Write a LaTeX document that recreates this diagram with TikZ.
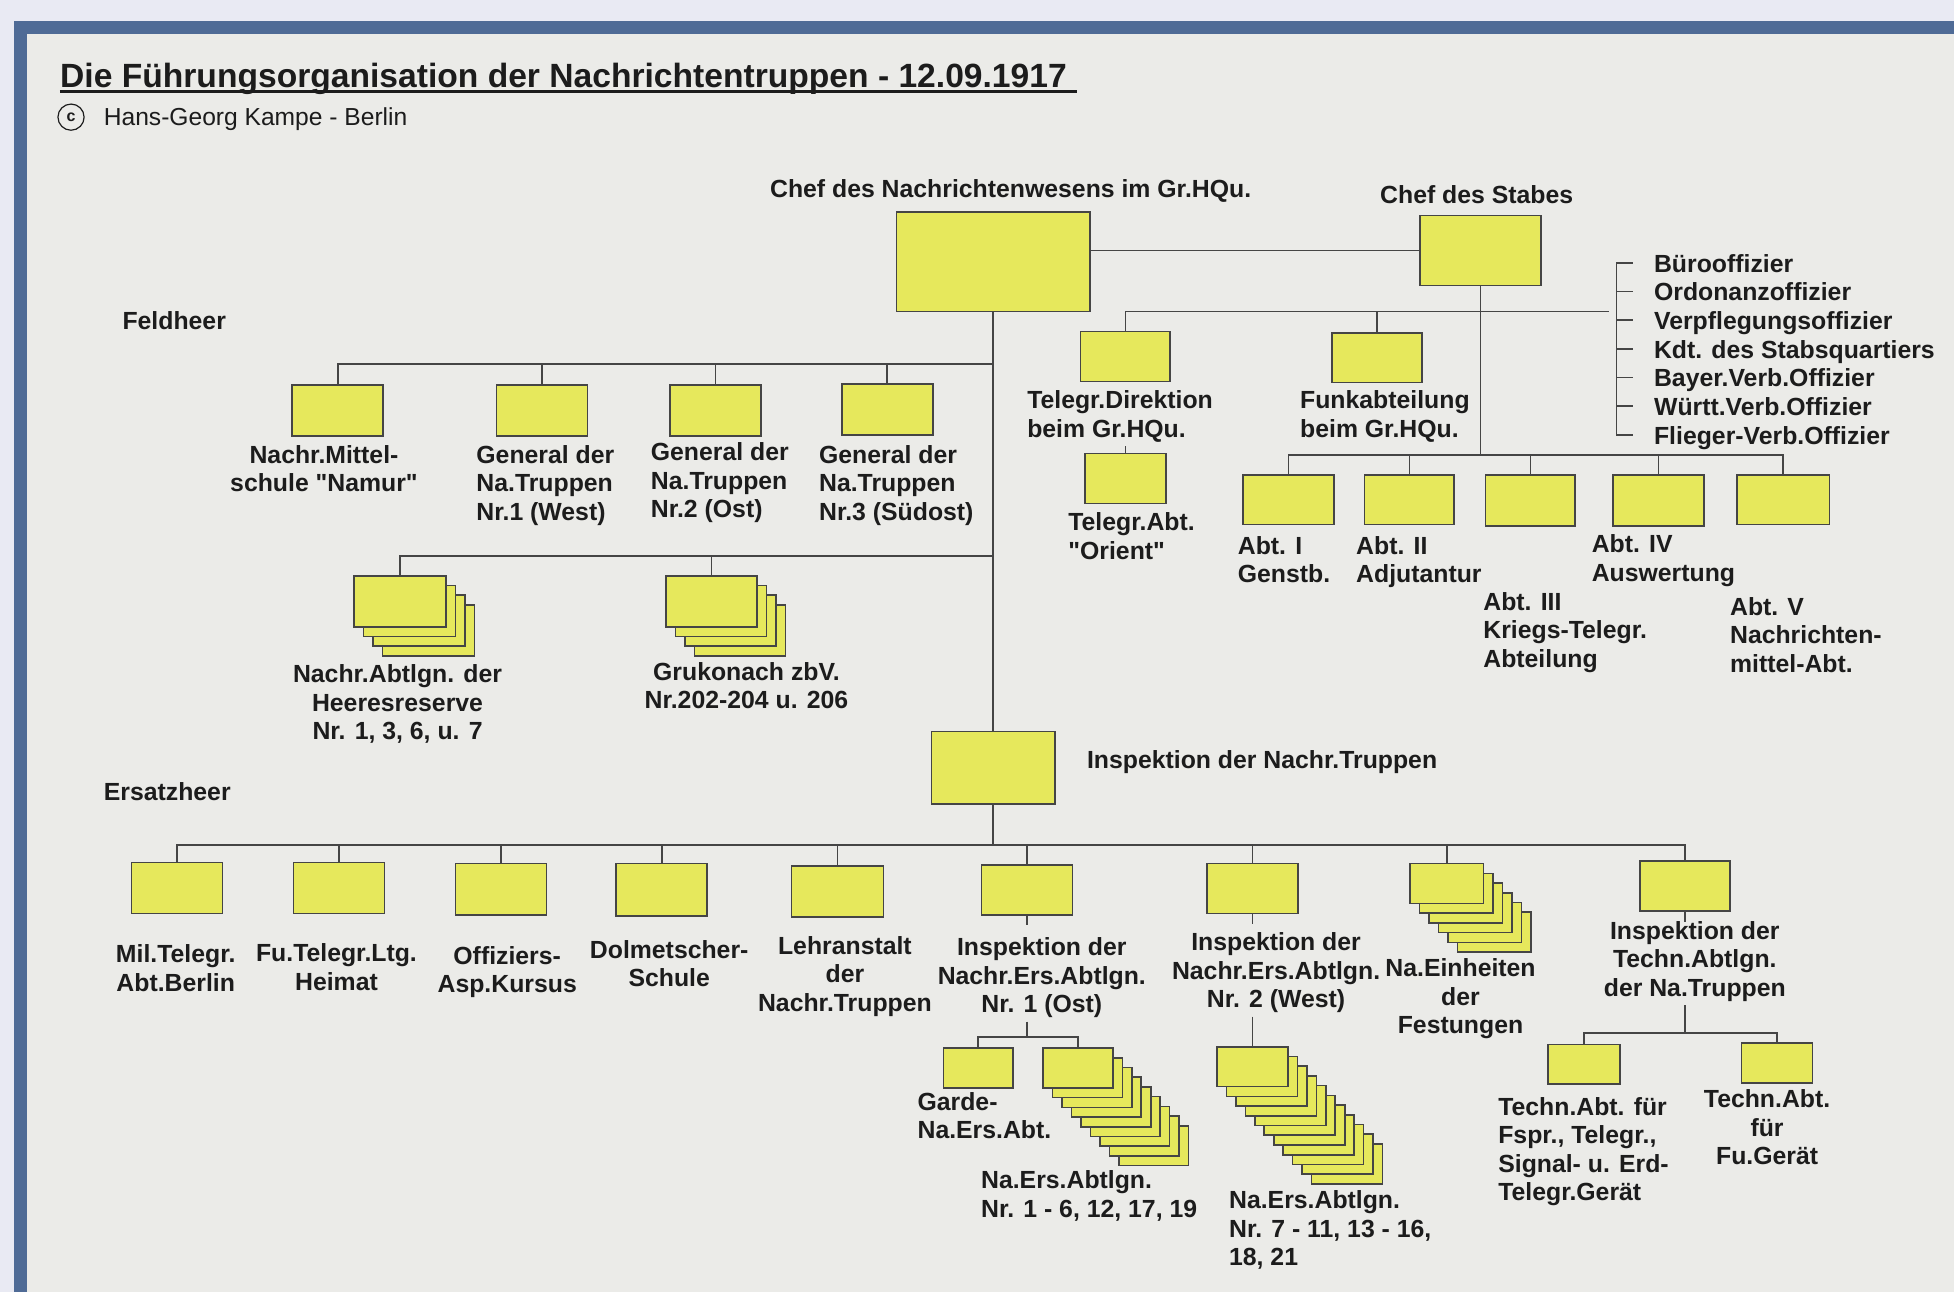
\documentclass[tikz,border=0pt]{standalone}
\usepackage{fontspec}
\setmainfont{Liberation Sans}
\usetikzlibrary{calc}
\definecolor{bgl}{HTML}{E9EAF3}
\definecolor{frb}{HTML}{4F6B96}
\definecolor{paper}{HTML}{EBEBE8}
\definecolor{yel}{HTML}{E6E85C}
\definecolor{lnc}{HTML}{454545}
\definecolor{txt}{HTML}{1C1C1C}
\newcommand\U{0.623pt}
\newcommand\dq{\XeTeXglyph\XeTeXcharglyph"0022\relax}
\newcommand\lblfont{\fontsize{12.4}{14.3}\selectfont\bfseries}
\newcommand\boxstack[6]{%
  \foreach \k in {#6,...,1}{\node[bx={#4}{#5}] at ({#2+\k*7.6},{#3+\k*7.8}) {};}%
  \node[bx={#4}{#5}] (#1) at (#2,#3) {};}
\begin{document}
\begin{tikzpicture}[x=0.623pt,y=-0.623pt,
  ybox/.style={draw=lnc,fill=yel,line width=0.8pt,inner sep=0pt,rectangle},
  bx/.style 2 args={ybox,minimum width=#1*\U,minimum height=#2*\U},
  conn/.style={draw=lnc,line width=0.8pt},
  lbl/.style={inner sep=0pt,align=center,font=\lblfont,text=txt,anchor=north,execute at begin node=\strut},
  lbll/.style={lbl,align=left,anchor=north west}]
\useasboundingbox (0,0) rectangle (1568,1037);
\fill[bgl] (0,0) rectangle (1568,1037);
\fill[frb] (11,17) rectangle (1568,1037);
\fill[paper] (22,27) rectangle (1568,1037);
% title
\node[anchor=base west,inner sep=0pt,font=\fontsize{16.8}{19}\selectfont\bfseries,text=txt] (title) at (48,70) {Die Führungsorganisation der Nachrichtentruppen - 12.09.1917};
\draw[txt,line width=1.5pt] ([yshift=-2.2pt]title.base west) -- ([yshift=-2.2pt,xshift=5pt]title.base east);
\node[circle,draw=txt,line width=0.6pt,minimum size=21*\U,inner sep=0pt,font=\fontsize{8}{9}\selectfont\bfseries,text=txt] (copy) at (57,94) {c};
\node[anchor=base west,inner sep=0pt,font=\fontsize{12.3}{14}\selectfont,text=txt] (author) at (83,101) {Hans-Georg Kampe - Berlin};
% top
\node[bx={155}{80}] (chef) at (797,210) {};
\node[bx={97}{56}] (stab) at (1188,201) {};
\node[lbl] (lchef) at (811,142) {Chef des Nachrichtenwesens im Gr.HQu.};
\node[lbl] (lstab) at (1185,147) {Chef des Stabes};
\draw[conn] (stab.west) -- (stab.west -| chef.east);
% Feldheer
\node[lbll] (lfeld) at (98,248) {Feldheer};
\coordinate (fb) at (797,292);
\node[bx={73}{41}] (f1) at (271,329.5) {};
\node[bx={73}{41}] (f2) at (435,329.5) {};
\node[bx={73}{41}] (f3) at (574,329.5) {};
\node[bx={73}{41}] (f4) at (712,328.5) {};
\draw[conn] (f1.north) |- (fb);
\foreach \n in {f2,f3,f4} \draw[conn] (\n.north) -- (\n.north |- fb);
\node[lbl] (lf1) at (260,357) {Nachr.Mittel-\\schule \dq Namur\dq};
\node[lbll] (lf2) at (382,357) {General der\\Na.Truppen\\Nr.1 (West)};
\node[lbll] (lf3) at (522,355) {General der\\Na.Truppen\\Nr.2 (Ost)};
\node[lbll] (lf4) at (657,357) {General der\\Na.Truppen\\Nr.3 (Südost)};
% Telegr / Funk
\coordinate (tb) at (1291,250);
\node[bx={72}{40}] (tdir) at (903,286) {};
\node[bx={72}{40}] (funk) at (1105,287) {};
\draw[conn] (tdir.north) |- (tb);
\draw[conn] (funk.north) -- (funk.north |- tb);
\node[lbll] (ltdir) at (824,313) {Telegr.Direktion\\beim Gr.HQu.};
\node[lbll] (lfunk) at (1043,313) {Funkabteilung\\beim Gr.HQu.};
\node[bx={65}{40}] (tor) at (903,384) {};
\draw[conn] (tor.north |- ltdir.south) -- (tor.north);
\node[lbll] (ltor) at (857,411) {Telegr.Abt.\\\dq Orient\dq};
% Abteilungen
\coordinate (ab) at (1188,365);
\draw[conn] (stab.south) -- (ab);
\node[bx={73}{40}] (a1) at (1034,401) {};
\node[bx={72}{40}] (a2) at (1131,401) {};
\node[bx={72}{41}] (a3) at (1228,401.5) {};
\node[bx={73}{41}] (a4) at (1331,401.5) {};
\node[bx={74}{40}] (a5) at (1431,401) {};
\draw[conn] (a1.north) -- (a1.north |- ab) -- (a5.north |- ab) -- (a5.north);
\foreach \n in {a2,a3,a4} \draw[conn] (\n.north) -- (\n.north |- ab);
\node[lbll] (la1) at (993,430) {Abt. I\\Genstb.};
\node[lbll] (la2) at (1088,430) {Abt. II\\Adjutantur};
\node[lbll] (la3) at (1190,475) {Abt. III\\Kriegs-Telegr.\\Abteilung};
\node[lbll] (la4) at (1277,429) {Abt. IV\\Auswertung};
\node[lbll] (la5) at (1388,479) {Abt. V\\Nachrichten-\\mittel-Abt.};
% staff list
\foreach \t [count=\i] in {Bürooffizier,Ordonanzoffizier,Verpflegungsoffizier,Kdt. des Stabsquartiers,Bayer.Verb.Offizier,Württ.Verb.Offizier,Flieger-Verb.Offizier}
  \node[lbll] (li\i) at (1327,{202+(\i-1)*23}) {\t};
\draw[conn] ($(li1.north west)+(-17,9)$) -- ++(-13,0) -- ($(li7.north west)+(-30,9)$) -- ++(13,0);
\foreach \i in {2,...,6} \draw[conn] ($(li\i.north west)+(-30,9)$) -- ++(13,0);
% Heeresreserve
\coordinate (mb) at (797,446);
\boxstack{h1}{321}{482.5}{74}{41}{3}
\boxstack{h2}{571}{482.5}{73}{41}{3}
\draw[conn] (h1.north) |- (mb);
\draw[conn] (h2.north) -- (h2.north |- mb);
\node[lbl] (lh1) at (319,533) {Nachr.Abtlgn. der\\Heeresreserve\\Nr. 1, 3, 6, u. 7};
\node[lbl] (lh2) at (599,531) {Grukonach zbV.\\Nr.202-204 u. 206};
% Inspektion
\node[bx={99}{58}] (insp) at (797,616) {};
\draw[conn] (chef.south) -- (insp.north);
\node[lbll] (linsp) at (872,600) {Inspektion der Nachr.Truppen};
\node[lbll] (lers) at (83,626) {Ersatzheer};
% Ersatzheer
\coordinate (eb) at (797,678);
\draw[conn] (insp.south) -- (eb);
\node[bx={73}{41}] (e1) at (142,712.5) {};
\node[bx={73}{41}] (e2) at (272,712.5) {};
\node[bx={73}{41}] (e3) at (402,713.5) {};
\node[bx={73}{42}] (e4) at (531,714) {};
\node[bx={74}{41}] (e5) at (672,715.5) {};
\node[bx={73}{40}] (e6) at (824,714) {};
\node[bx={73}{40}] (e7) at (1005,713) {};
\boxstack{e8}{1161}{709}{59}{32}{5}
\node[bx={72}{40}] (e9) at (1352,711) {};
\draw[conn] (e1.north) -- (e1.north |- eb) -- (e9.north |- eb) -- (e9.north);
\foreach \n in {e2,e3,e4,e5,e6,e7,e8} \draw[conn] (\n.north) -- (\n.north |- eb);
\foreach \n in {e6,e7,e9} \draw[conn] (\n.south) -- ++(0,8);
\node[lbl] (le1) at (141,758) {Mil.Telegr.\\Abt.Berlin};
\node[lbl] (le2) at (270,757) {Fu.Telegr.Ltg.\\Heimat};
\node[lbl] (le3) at (407,759) {Offiziers-\\Asp.Kursus};
\node[lbl] (le4) at (537,754) {Dolmetscher-\\Schule};
\node[lbl] (le5) at (678,751) {Lehranstalt\\der\\Nachr.Truppen};
\node[lbl] (le6) at (836,752) {Inspektion der\\Nachr.Ers.Abtlgn.\\Nr. 1 (Ost)};
\node[lbl] (le7) at (1024,748) {Inspektion der\\Nachr.Ers.Abtlgn.\\Nr. 2 (West)};
\node[lbl] (le8) at (1172,769) {Na.Einheiten\\der\\Festungen};
\node[lbl] (le9) at (1360,739) {Inspektion der\\Techn.Abtlgn.\\der Na.Truppen};
% sub Nr.1
\coordinate (b6) at (824,832);
\draw[conn] (e6.south |- le6.south) -- (b6);
\node[bx={56}{32}] (g1) at (785,857) {};
\boxstack{s1}{865}{857}{56}{32}{8}
\draw[conn] (g1.north) |- (b6) -| (s1.north);
\node[lbll] (lg1) at (736,876) {Garde-\\Na.Ers.Abt.};
\node[lbll] (ls1) at (787,939) {Na.Ers.Abtlgn.\\Nr. 1 - 6, 12, 17, 19};
% sub Nr.2
\boxstack{s2}{1005}{856}{57}{32}{10}
\draw[conn] (e7.south |- le7.south) -- (s2.north);
\node[lbll] (ls2) at (986,955) {Na.Ers.Abtlgn.\\Nr. 7 - 11, 13 - 16,\\18, 21};
% sub Techn
\coordinate (b9) at (1352,829);
\draw[conn] (e9.south |- le9.south) -- (b9);
\node[bx={58}{32}] (t1) at (1271,854) {};
\node[bx={57}{32}] (t2) at (1426,853) {};
\draw[conn] (t1.north) |- (b9) -| (t2.north);
\node[lbll] (lt1) at (1202,880) {Techn.Abt. für\\Fspr., Telegr.,\\Signal- u. Erd-\\Telegr.Gerät};
\node[lbl] (lt2) at (1418,874) {Techn.Abt.\\für\\Fu.Gerät};
\end{tikzpicture}
\end{document}
